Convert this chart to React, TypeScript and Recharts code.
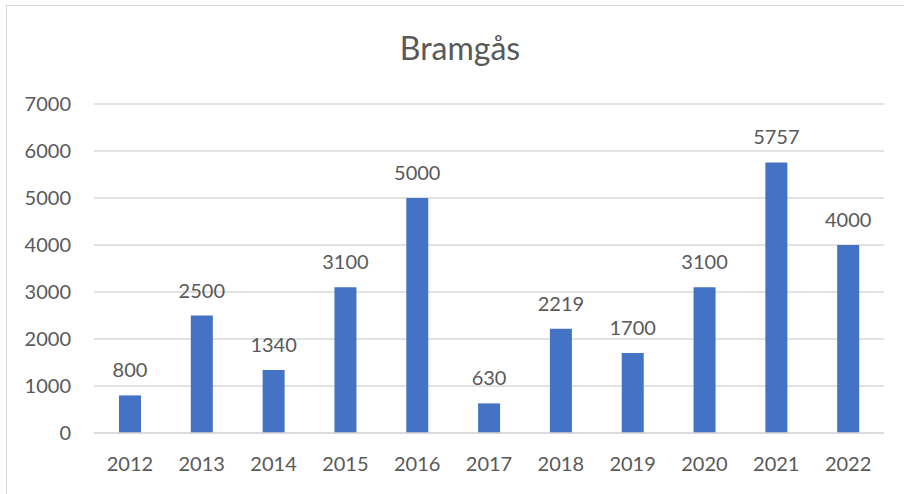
import { Bar, BarChart, CartesianGrid, LabelList, XAxis, YAxis } from "recharts";

const years = ["2012", "2013", "2014", "2015", "2016", "2017", "2018", "2019", "2020", "2021", "2022"];
const counts = [800, 2500, 1340, 3100, 5000, 630, 2219, 1700, 3100, 5757, 4000];
const yTicks = [0, 1000, 2000, 3000, 4000, 5000, 6000, 7000];

const data = years.map((year, i) => ({ year, count: counts[i] }));

const FONT = "Lato, 'Open Sans', sans-serif";
const TEXT = "#595959";

export default function App() {
  return (
    <div
      style={{
        position: "fixed",
        left: 0,
        top: 0,
        width: 904,
        height: 494,
        background: "#fff",
        overflow: "hidden",
        fontFamily: FONT,
      }}
    >
      <div
        style={{
          position: "absolute",
          left: 6,
          top: 5,
          width: 920,
          height: 520,
          border: "1px solid #d9d9d9",
          boxSizing: "border-box",
        }}
      />
      <div
        style={{
          position: "absolute",
          left: 0,
          width: 920,
          top: 29,
          textAlign: "center",
          fontSize: 32,
          lineHeight: 1.2,
          color: TEXT,
        }}
      >
        Bramgås
      </div>
      <div style={{ position: "absolute", left: 0, top: 0 }}>
        <BarChart
          width={904}
          height={494}
          data={data}
          margin={{ top: 104, right: 20, bottom: 21, left: 0 }}
        >
          <CartesianGrid stroke="#d9d9d9" strokeWidth={1.5} vertical={false} />
          <XAxis
            dataKey="year"
            height={40}
            tickLine={false}
            axisLine={{ stroke: "#d9d9d9", strokeWidth: 1.5 }}
            tickMargin={18}
            tick={{ fill: TEXT, fontSize: 20, fontFamily: FONT }}
            interval={0}
          />
          <YAxis
            width={94}
            domain={[0, 7000]}
            ticks={yTicks}
            tickLine={false}
            axisLine={false}
            tickMargin={17}
            tick={{ fill: TEXT, fontSize: 20, fontFamily: FONT }}
          />
          <Bar dataKey="count" fill="#4472c4" barSize={22} isAnimationActive={false}>
            <LabelList
              dataKey="count"
              position="top"
              offset={18}
              fill={TEXT}
              fontSize={20}
              fontFamily={FONT}
            />
          </Bar>
        </BarChart>
      </div>
    </div>
  );
}
